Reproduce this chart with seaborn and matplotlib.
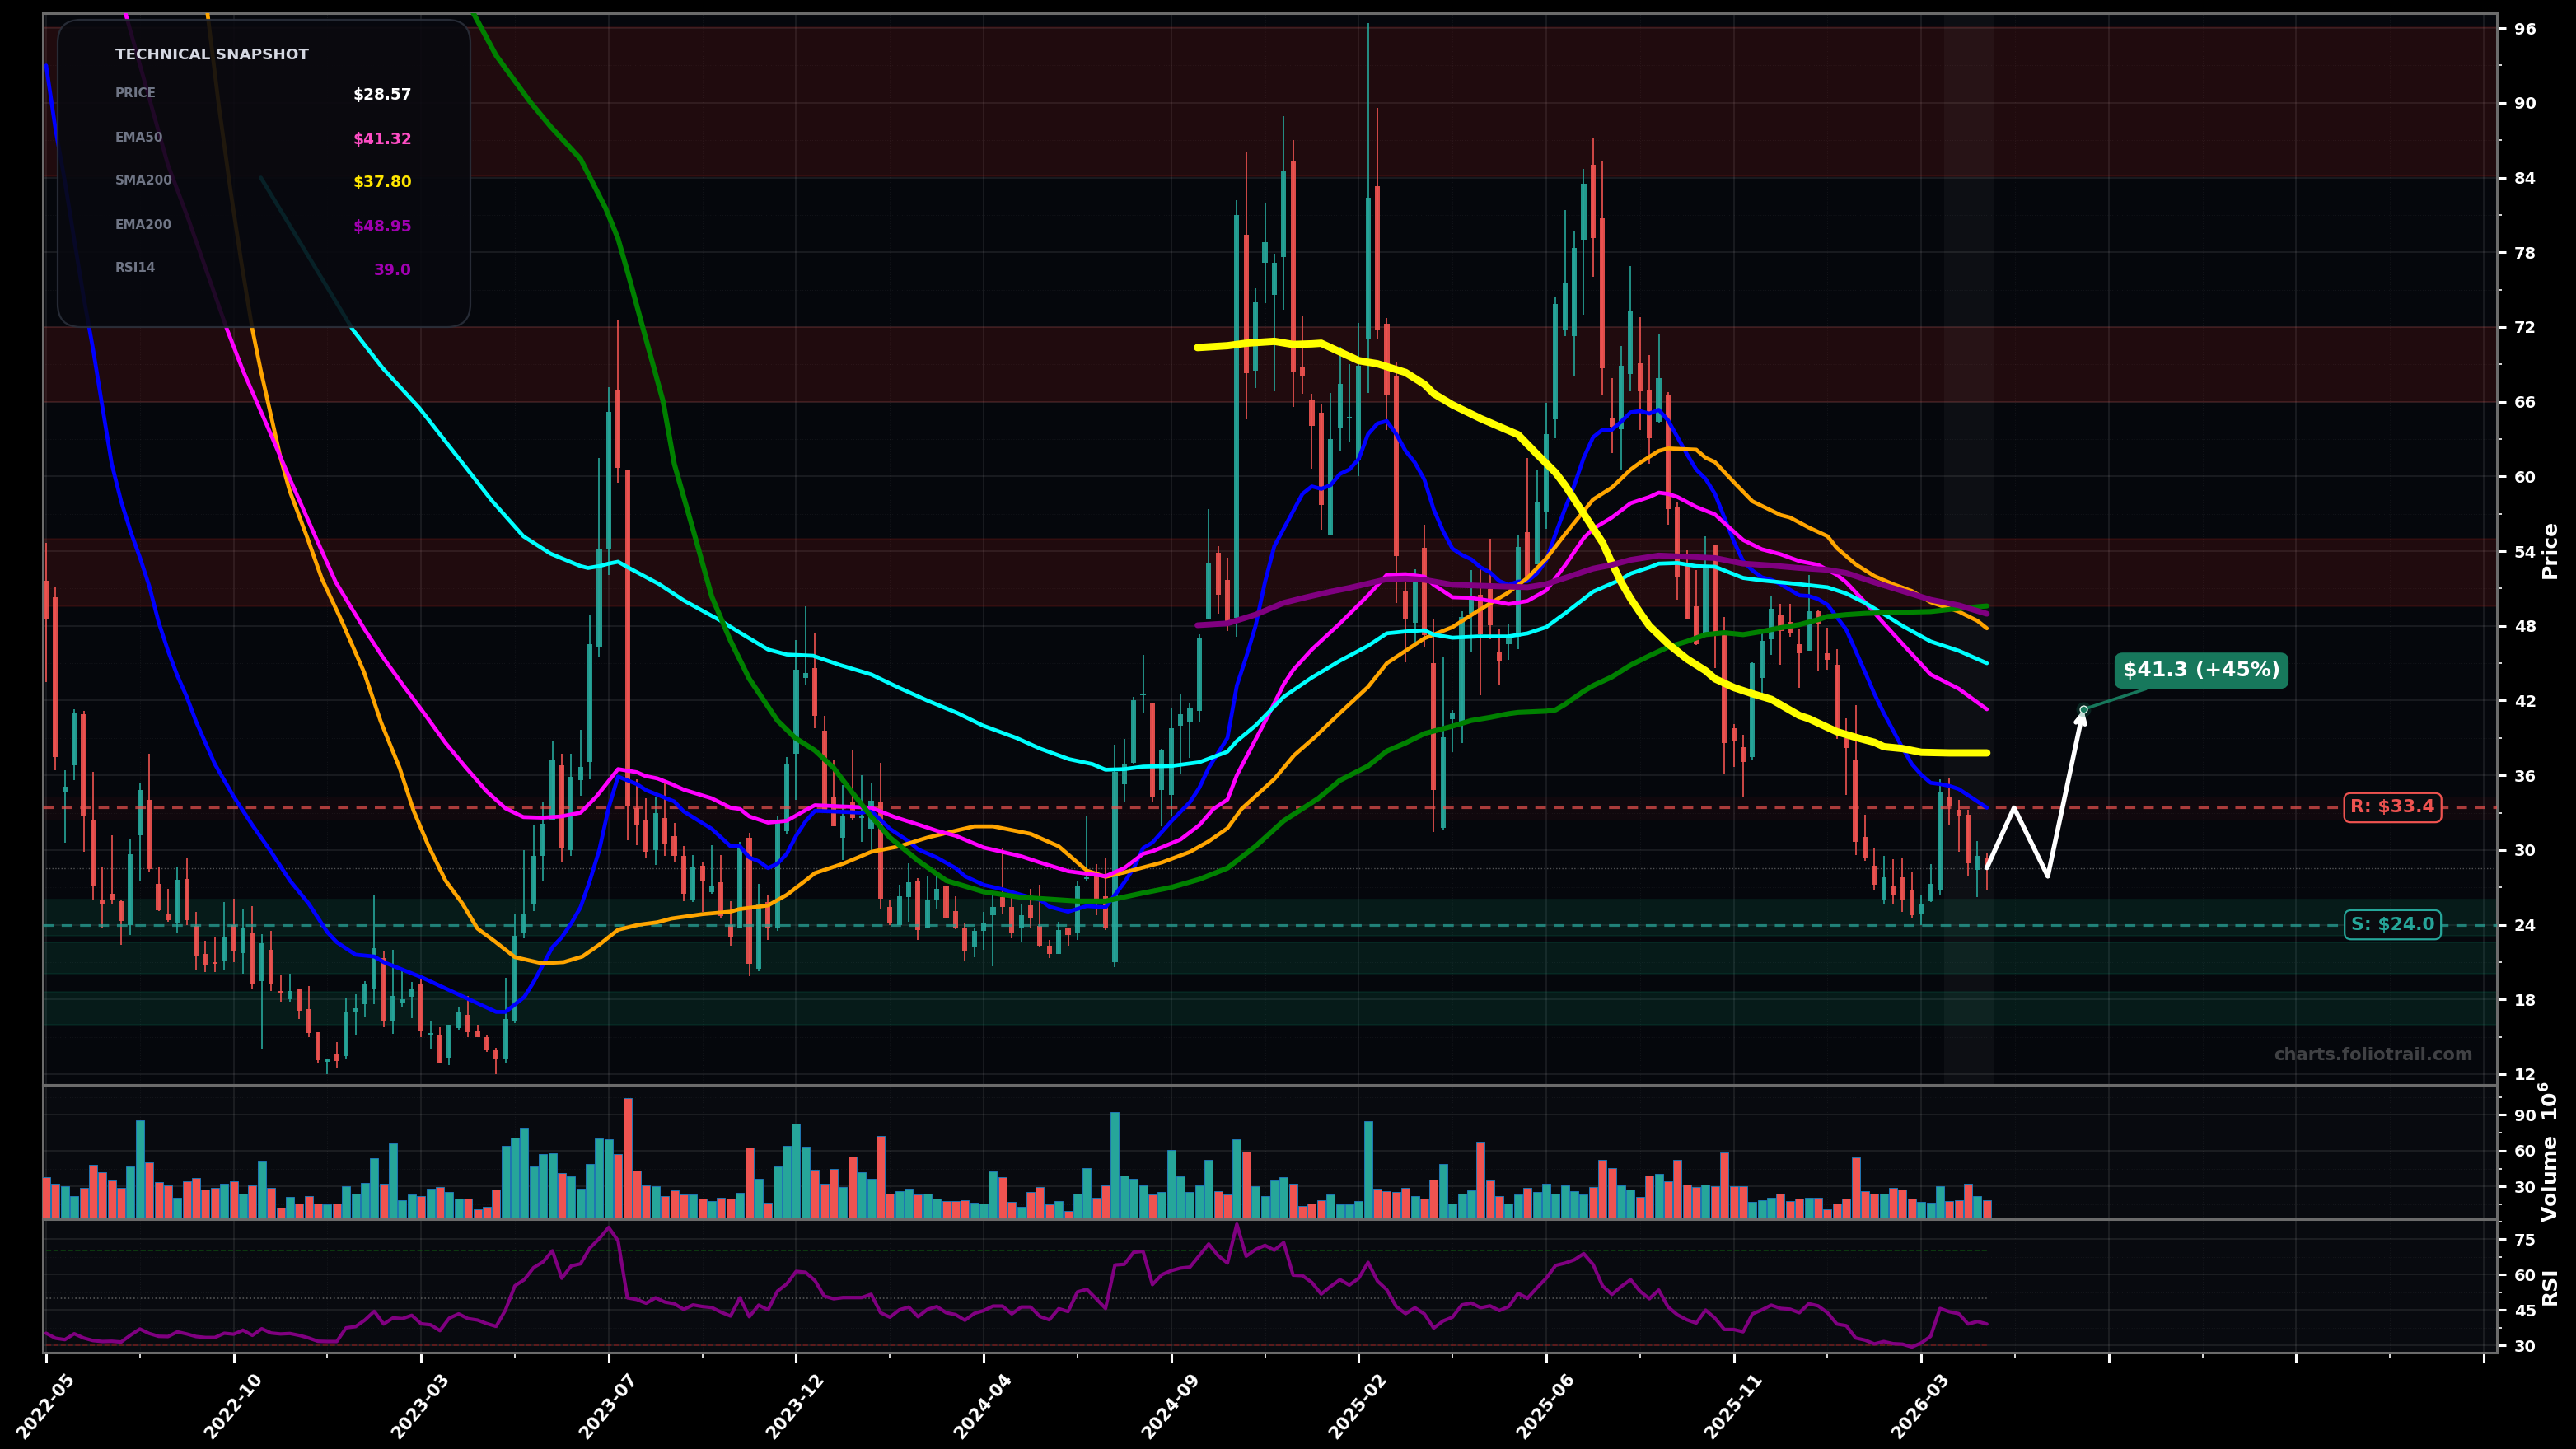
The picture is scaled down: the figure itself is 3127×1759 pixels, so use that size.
import matplotlib
matplotlib.use("Agg")
import matplotlib.pyplot as plt
import seaborn as sns
import pandas as pd
from matplotlib.patches import FancyBboxPatch
from matplotlib.ticker import MultipleLocator

# weekly candles
opens = [51.65,50.3,34.6,36.8,40.9,32.4,26,26.5,25.9,24,31.2,34,27.3,24.9,24.2,27.7,23.9,21.65,21,21.1,
         24,21.7,23.4,19.5,22,18.65,18.05,18.8,17.25,15.4,13,13.65,13.45,17.05,17.6,18.8,21.35,16.25,17.75,18.2,
         19.25,15.2,15.2,13.3,15.7,16.75,15.5,15,13.9,13.25,16.25,23.4,25.6,29.55,32.45,36.8,30,35.6,37.1,46.25,
         54.15,67,60.55,33.35,32.4,30,32.55,31.1,29.5,25.95,28.75,26.65,27.4,24,23.7,31,20.5,25.8,23.75,31.5,
         37.7,43.8,44.6,39.6,34.2,31,33.8,32.55,31.7,33.85,25.4,24,26.2,27.55,23.7,26,27.05,25.1,23.7,22.2,
         23.5,24.75,26.25,25.45,23.7,25.55,23.9,22.3,21.65,23.7,23.35,27.7,28.15,26.3,21,35.3,37,42.45,41.8,34.8,
         34.4,39.95,40.3,41.2,48.6,53.85,51.7,48.65,79.4,68.5,77.15,74.6,77.6,85.35,68.85,66.15,65.1,55.3,63.9,64.7,
         61.3,71.1,83.3,72.25,68.1,50.76,48.27,54.25,45,31.8,40.53,40.3,49,50.5,50.96,45.93,46.5,47.1,55.5,52.95,
         57.1,64.6,71.8,71.3,79,85,80.7,64.7,63.8,68.2,69.1,67,64.4,66.5,57.6,52.85,49.6,47.4,54.5,47.3,
         39.8,38.25,37.5,43.8,46.95,48.9,48.3,46.5,46,49.15,45.8,44.85,39,37.25,31.05,28.75,26,27.15,27.8,26.75,
         24.85,25.9,26.75,34.3,33.25,32.85,28.4,29.3]
closes = [48.5,37.45,35.1,40.95,32.8,27.07,25.66,26,24.3,29.65,34.8,28.45,25.15,24.35,27.6,24.4,21.45,20.8,20.85,23,
          21.85,23.7,19.3,22.55,19.2,18.45,18.7,17.1,15.3,13.15,13.2,13.05,17,17.3,19.25,22.15,16.3,18.3,18.05,18.85,
          15.5,15.3,12.9,15.95,17,15.4,15,13.9,13.25,16.4,23.1,24.9,29.55,32.1,37.25,30.15,35.85,36.7,46.55,54.2,
          65.2,60.7,33.5,32,29.85,32.95,30.5,29.55,26.5,28.6,27.55,27.1,24.7,23,30.3,20.85,25.6,23.7,32.4,36.9,
          44.5,44.2,40.8,33.2,31.9,32.7,32.55,32.75,33.95,26.1,24.2,26.3,27.4,23.6,26,26.9,24.6,23.75,21.9,23.5,
          24.15,25.4,25.4,23.3,24.75,24.55,22.35,21.65,23.6,23.15,27.1,27.75,26.05,23.75,36.3,36.85,42,42.5,34.3,38,
          39.75,40.9,41.35,47,53.1,50.5,48.4,81,68.3,74,78.8,77.15,84.5,68.4,68,64.05,57.7,63,67.4,64.75,
          68.9,82.4,71.75,66.6,53.6,48.53,51.6,47.28,34.8,39.05,40.97,48.7,50.2,47.3,48.05,45.23,47.1,54.33,51.9,58,
          63.4,73.85,75.6,78.35,83.5,79.15,68.7,64,68.9,73.3,66.85,63.05,67.9,57.35,51.95,48.6,46.5,52.9,47.5,38.6,
          38.75,37.1,45,46.8,49.4,47.6,47.45,45.8,49.15,48.15,45.25,39.25,38.2,30.65,29.3,27.2,27.8,26.35,26,24.75,
          25.65,27.3,34.6,33.5,32.7,28.95,29.55,28.57]
highs = [54.65,51.1,36.4,41.3,41.2,36.25,28.6,31.2,26,30.85,35.4,37.7,28.65,26.9,28.6,29.3,25,22.7,23,25.8,
         26.1,25.2,25.5,23.25,23.5,20,20.1,18.9,19.1,15.4,13.2,14.55,18.1,18.4,19.5,26.4,21.9,22,20.3,19.4,
         19.8,16.3,15.75,15.95,17.45,18.3,15.95,15.2,14.1,19.75,24.9,30,32,33.85,38.8,37.7,37.7,39.65,48.85,61.5,
         67.2,72.6,60.55,35.7,34.15,34.2,35.5,32.15,30.3,29.6,29.05,30.4,29.6,25.9,30.65,31.4,27.3,26.4,32.7,37.5,
         46.85,49.6,47.4,40.8,37.2,35.2,38,36,35.35,37,26.05,27.2,28.95,27.75,27.85,27.85,27.1,26.3,24.2,23.75,
         25.05,26.4,30.1,26.4,25.6,26.9,27.2,22.8,24.25,23.75,27.55,32.75,28.9,29.4,38.45,38.95,42.3,45.7,41.8,38.15,
         41.45,42.5,41.75,47.35,57.4,54.4,53.5,82.2,86,75.1,81.95,77.9,88.9,87,72.85,66.65,65.75,66.7,70.4,69,
         72.3,96.4,89.6,72.75,69.2,51.5,52.55,56.1,48.5,45.5,41.25,49.2,52.5,52.9,55,47.8,48.2,55.25,61.5,60.5,
         65.9,74.4,81.4,79.7,84.7,87.2,85.3,67.9,70.45,76.9,72.8,69.75,71.4,66.75,57.9,54.1,52.5,55.2,54.5,48.7,
         40.1,39.25,45.1,47.75,50.45,49.8,49.75,47.75,52.1,49.3,47.85,46.1,40.6,41.65,32.85,30.15,29.55,29.25,29.35,28.2,
         26.4,28.9,35.65,35.8,34.05,33.25,30.7,29.75]
lows = [43.5,36.4,30.6,35.6,29.85,26,23.8,25.6,22.4,23.2,27.5,28.2,25.1,24.25,23.4,24,20.4,20.2,20.2,20.4,
        21,20.1,18.8,14,18.7,17.85,17.8,16.45,15,12.9,12,12.55,13.2,15.2,16.55,17.65,15.75,15.25,17.45,16.5,
        15,14,12.9,12.75,15.6,14.95,15,13.8,12,12.95,16.1,22.9,25.1,27.5,32.45,29,29.55,34.35,35.65,45.55,
        52.1,59.5,30.8,30.4,29.35,28.8,29.5,29,25.9,25.85,25.05,26.5,24.6,22.35,23.7,19.85,20.3,22.8,23.5,31.3,
        34,43.3,39.75,33,31.9,29.2,32.4,30.65,29.85,25.3,24,24,24.25,22.8,23.7,25.2,24.5,23.65,21.1,21.4,
        22,20.65,24.9,22.9,22.6,23.7,22.25,21.3,21.65,22.35,22.8,27.45,24.75,23.6,20.6,33.8,36.85,41,33.8,31.9,
        32.7,36.15,37.4,40.25,48.5,49,47.6,47.1,64.6,67.1,73.9,66.85,73.4,65.55,66.65,60.6,55.75,55.3,62,62.8,
        60,66.7,71.1,63.7,49.85,45.05,46.66,46.3,31.45,31.6,37.85,38.6,45.9,42.4,46.9,43.25,45.3,46.1,51.7,52.95,
        55.8,63.1,71.25,68,73,76,66.6,61.85,60.55,66.85,63.7,61,64.25,56.1,50.1,48.6,46.45,47.3,44.6,36.05,
        36.7,34.3,37.3,42.55,45.7,44.9,47.1,43.05,46,44.4,44.5,38.95,34.4,29.6,29.15,26.85,25.6,25.7,25,24.5,
        24,25.85,26.45,32,29.85,27.85,26.25,26.75]
volumes = [38,32.5,30.5,22.2,29,48.3,42,35.3,29,47,85.4,50.4,33.9,31,20.8,34.6,37.3,27.7,29,32.5,
           34.6,24.3,31,51.8,29,12,21.5,16,22.2,16,14.7,16,30.5,24.3,33.2,53.8,32.5,66.2,18.8,23,
           22.2,28.4,29.8,25.6,19.5,19.5,10.6,12.6,27.7,64,71,79.2,47,57.3,58,41.5,38.7,28.4,49,70.3,
           69.6,57.3,104,43.5,31,30.5,22.2,27,23,23.6,20,18,20.8,20,25,62.7,36.6,16.7,47,64,
           82.7,63.4,44.2,32.5,44.9,29.8,55.2,42,36.6,72.4,24.3,26.3,28.4,23.4,24.3,19.5,18,18,18.8,16.7,
           16,42.8,38,17.4,12.6,25.6,29.8,15.3,18,9.8,24.3,45.6,20.8,31,92.3,39.4,36.6,31,23,25.6,
           60.7,38.7,25.6,31,52.4,26.3,23.6,69.6,59.3,30.5,22.2,35.3,38,32.5,13.3,16,18.8,23,14.7,14.7,
           18,84.7,28.2,26.3,25.6,29,22.2,20,36,49,16,24.3,27,67.6,35.3,22.2,16,23,29,25.6,
           32.5,24.3,31,26.3,23.6,29.8,52.4,45.6,31,27.7,21.5,39.4,40.8,34.6,52.4,31.8,29.8,31.8,30.5,58.6,
           30.5,30.5,17.4,18.8,20.8,24.3,18,20,20.8,20.8,11.2,16,19.5,54.5,26.3,24.3,24.3,29,27.7,20,
           17.4,16.7,30.5,18,18.8,32.5,22.2,18.8]
rsi14 = [35.1,33,32.4,34.9,33.1,32,31.6,31.7,31.4,34.3,36.9,35,33.8,33.7,35.7,34.8,33.7,33.3,33.3,35.1,
         34.7,36.4,34.2,37,35.2,34.8,35,34.2,33.1,31.7,31.6,31.6,37.4,37.9,40.7,44.4,39,41.6,41.3,42.7,
         39.1,38.7,36.2,41.5,43.3,41.3,40.7,39.2,38,45,55.2,57.8,62.9,65.3,70,58.4,63.6,64.5,71.2,75.2,
         79.9,74.3,50.1,49.4,47.8,50.1,48.3,47.6,45.2,47.1,46.4,46,44,42.4,50.1,42.1,47,45,52.9,56,
         61.3,60.9,57.4,50.8,49.7,50.2,50.2,50.2,51.6,43.8,41.9,45,46.2,42.1,45.2,46.4,43.8,43,40.6,43.5,
         44.7,46.6,46.6,43.3,46.2,46.2,42.2,40.8,45.5,44.3,52.6,53.7,49.7,45.6,64,64.3,69.4,69.8,55.7,59.9,
         61.6,62.7,63.1,68,72.9,68,64.8,81.3,67.7,70.6,72.3,70.3,73.5,59.7,59.5,56.6,51.7,54.9,57.8,55.5,
         58.4,65.1,57.2,53.5,46.4,43.4,45.9,43.3,37.3,40.3,41.9,47.1,47.9,45.9,46.7,44.7,46.4,52,49.9,54.3,
         58.4,63.8,64.8,66.2,68.8,64.2,55.2,51.5,54.9,57.8,52.9,49.7,53.4,46.2,42.9,40.8,39.4,44.9,41.5,36.7,
         36.7,35.7,43.3,45,47,45.6,45.3,43.8,47.6,46.7,43.8,39,38.3,33.1,32.2,30.6,31.6,30.7,30.5,29.3,
         31,33.8,45.6,44.2,43.4,39,40.1,39]

# moving averages, read at the bars where each one could be seen
blue_idx = [0,1,2,3,4,5,6,7,8,9,10,11,12,13,14,15,16,18,20,22,24,26,28,30,31,33,35,36,40,44,48,49,51,52,54,55,56,57,58,59,60,61,62,63,64,65,67,68,71,73,74,75,76,77,78,79,80,81,82,84,87,88,90,92,93,95,97,98,100,102,104,106,107,109,111,113,115,116,117,118,120,122,123,124,126,127,128,129,130,131,134,135,136,137,138,139,140,141,142,143,144,145,146,147,148,149,150,151,152,153,154,155,156,157,158,159,160,161,162,163,164,165,166,167,168,169,170,171,172,173,174,175,176,177,178,179,180,181,182,183,184,185,186,187,188,189,190,191,192,193,194,195,196,197,198,199,200,201,202,203,204,205,206,207]
blue_vals = [93,87.9,83.7,79,74.4,70.25,65.6,61,58,55.6,53.5,51.2,48.3,46,44,42.3,40.3,36.9,34.3,32,29.85,27.55,25.7,23.4,22.6,21.6,21.45,21,19.8,18.4,17,17,18.2,19.4,22.2,23,24.1,25.4,27.55,30,33.4,35.9,35.6,35.3,34.8,34.5,33.9,33.1,31.7,30.3,30.3,29.4,29.1,28.55,28.9,29.7,31.15,32.3,33.15,33.1,33,33.15,31.7,30.7,30.05,29.4,28.55,27.9,27.2,26.85,26.4,26,25.45,25.05,25.5,25.4,27.4,28.55,30.15,30.6,32.3,33.85,35,36.6,39,43.2,45.5,48,51.5,54.4,58.6,59.2,59,59.3,60.2,60.55,61.4,63.4,64.25,64.45,63.4,62.05,61.1,59.75,57.35,55.6,54.2,53.7,53.35,52.7,52.3,51.6,51.3,51.55,51.6,52.2,53.25,55.4,57.4,59.3,61.5,63.15,63.75,63.75,64.4,65.15,65.25,65.05,65.35,64.5,63.15,61.8,60.55,59.8,58.6,56.7,54.8,53.2,52.45,51.9,51.7,51.35,50.9,50.45,50.4,50.15,49.7,48.7,47.7,46,44.3,42.55,41,39.6,38.2,36.9,36.05,35.4,35.3,35.15,34.9,34.4,33.9,33.4]
orange_idx = [17,18.4,19.7,20.8,22,22.9,25,26,27.8,29.4,31.4,33.9,35.7,37.7,39.2,40.8,42.6,44.4,46,47.8,50,52.9,55.2,57.2,59,61,63.2,65.2,66.7,70,73,73.9,77,79,81,82,85,88,91,94,97,99,101,104,105,108,111,113,115,117,119,122,124,126,127.5,131,133.1,135.3,138,141,143,145,147,150,152.7,155.9,158,160,162,165,167,169,170,172,173,176,177,178,180,182,185,186,188,190,191,193,195,197,199,201,204,206,207]
orange_vals = [98.5,89.9,82.8,77.3,71.8,68.5,61.5,58.8,55.2,51.8,48.6,44.3,40.3,36.6,33.15,30.3,27.55,25.7,23.7,22.7,21.4,20.9,21,21.45,22.4,23.6,24,24.2,24.5,24.85,25.05,25.25,25.55,26.4,27.55,28.15,28.9,29.85,30.3,31,31.55,31.9,31.9,31.45,31.3,30.3,28.35,27.85,28.2,28.6,29,29.85,30.7,31.75,33.3,35.7,37.6,39.05,41,43.1,45,46,47,47.9,49.2,50.65,51.85,53.4,55.35,58.15,59.1,60.55,61.1,62.05,62.25,62.15,61.5,61.15,59.55,58,56.9,56.7,55.9,55.2,54.25,52.95,52,51.35,50.8,49.9,49.15,48.4,47.8]
magenta_idx = [8.5,13,15.2,19.3,21,23.5,26,28.7,30.9,33.9,35.9,38.1,40.1,42.6,44.8,47,49,50.9,52.9,54.9,57,58.7,61,63,63.9,65.2,66.7,68,71,73,74,75,77,79,81,82,85,88,90.5,93,95,97,100,104,106,109,113,115,117,118,121,123,124.5,126,127,128,130,132,133,135,138,141,143,145,147,148,150,152,155,156,158,160,162,164,165,167,169,171,172,173,174,176,178,179,181,183,185,187,189,191,192,194,196,198,201,204,207]
magenta_vals = [97.1,85,80.6,71.8,68.5,64.2,59.8,55.2,51.5,47.8,45.5,43.2,41.2,38.6,36.6,34.7,33.35,32.65,32.6,32.7,33,34.3,36.5,36.25,35.95,35.75,35.3,34.85,34.15,33.4,33.3,32.7,32.2,32.35,33.2,33.6,33.5,33.4,32.65,32.05,31.55,31.15,30.2,29.5,29,28.3,27.9,28.55,29.7,29.9,30.85,32,33.3,34.05,36,37.45,40.3,43.3,44.45,46.1,48.2,50.45,52.1,52.15,51.95,51.3,50.3,50.25,49.9,49.75,50,50.85,52.85,55.05,55.8,56.7,57.85,58.35,58.7,58.6,58.35,57.55,56.95,56.25,54.9,54.15,53.75,53.2,52.9,52.1,51.5,49.9,48.2,46.55,44.1,42.95,41.3]
cyan_idx = [22.9,32.7,35.9,39.8,47.6,50.9,53.8,57,57.8,59,60,61,62.3,64.4,65.4,68,72.1,73.9,77,79,81.8,84.7,88,90.9,94,97.2,99.9,103.5,106,109.1,111.6,113,115,117,120,123,126,127,129,132,134.9,138,141,143,145,147,148,150,152.7,155.9,158,160,162,165,167.9,169,171,172,174,176,178,181,183,185,187,190,192,194,196,198,201,204,207]
cyan_vals = [84,71.8,68.7,65.5,58,55.2,53.8,52.8,52.65,52.8,53,53.15,52.6,51.75,51.35,50.05,48.35,47.5,46.1,45.7,45.6,44.85,44.1,43.05,42,41,40,39,38.15,37.3,36.9,36.45,36.5,36.7,36.75,37.05,37.9,38.75,40,42.3,43.8,45.2,46.4,47.4,47.55,47.65,47.3,47.05,47.15,47.15,47.4,47.9,49,50.75,51.7,52.2,52.7,53,53.05,52.8,52.75,51.85,51.65,51.5,51.35,51.1,50.6,49.85,48.95,48,46.75,46,45]
green_idx = [45,48,51.6,53.8,57,59.7,61,62.1,63.7,65.8,67,69.2,71,73,75,78,79.9,82,84,86,88,90,93,96,100,104,107,110,113,117,120,123,126,129,132,135.7,138,141,143,145,147,150,152,154,156,157,160,161,162,164,165,167,169,171,173,175,177,179,181,183,185,187,189,190,192,194,196,201,204,207]
green_vals = [98,93.8,90.1,88.1,85.5,81.5,79.1,76.2,71.8,66.05,61,55.2,50.35,46.8,43.75,40.4,39,38,36.6,34.6,32.7,31,29.15,27.55,26.65,26.2,26.05,25.9,25.9,26.55,27,27.65,28.55,30.3,32.35,34.15,35.6,36.75,37.95,38.6,39.35,39.95,40.4,40.65,40.95,41.05,41.15,41.25,41.7,42.75,43.2,43.9,44.85,45.6,46.3,46.75,47.3,47.45,47.3,47.55,47.85,48.1,48.5,48.75,48.9,49,49.05,49.15,49.4,49.6]
yellow_idx = [122.8,126,128,130,131,133,135,136,138,140,142,145,147,148,150,153,157,159,161,162,164,166,167,168,169,170.2,171,173,175,177,178,180,182,184,187,188,189,191,193,195,196,198,200,203,207]
yellow_vals = [70.35,70.5,70.7,70.8,70.85,70.6,70.65,70.7,70,69.3,69.05,68.35,67.4,66.65,65.75,64.65,63.35,61.8,60.3,59.3,57,54.7,53.05,51.5,50.2,48.85,48,46.55,45.35,44.4,43.75,43.05,42.55,42.1,40.8,40.55,40.2,39.5,39.05,38.65,38.3,38.15,37.85,37.8,37.8]
purple_idx = [122.8,126,129,132,134.4,137,139,141,143,145,147,150,154,158,160,162,165,167,169,172,175,178,181,184,187,190,192,195,198,201,204,207]
purple_vals = [48.05,48.2,48.9,49.85,50.3,50.75,51.05,51.4,51.75,51.8,51.7,51.3,51.2,51.1,51.35,51.85,52.6,52.9,53.3,53.65,53.55,53.45,53,52.85,52.65,52.5,52.25,51.5,50.8,50.1,49.65,48.97]

# levels and zones
resistance = 33.4
support = 24.0
last_price = 28.57
red_zones = [(84.1, 96.1), (66, 72), (49.6, 55)]
res_zone = (32.45, 34.2)
green_zones = [(23.1, 26.05), (20.05, 22.6), (16, 18.6)]
forecast_idx = [207, 209.9, 213.5, 217.3]
forecast_vals = [28.57, 33.4, 27.9, 41.3]
tick_dates = ["2022-05","2022-10","2023-03","2023-07","2023-12","2024-04","2024-09","2025-02","2025-06","2025-11","2026-03","","",""]
snapshot_rows = ["PRICE","EMA50","SMA200","EMA200","RSI14"]
snapshot_vals = ["$28.57","$41.32","$37.80","$48.95","39.0"]

TEAL = "#26a69a"
RED = "#ef5350"
ZONE_RED = "#e42a20"
ZONE_GREEN = "#0da878"
W, H = 3127, 1759
DPI = 200

sns.set_style("dark")
plt.rcParams["font.family"] = ["DejaVu Sans"]
plt.rcParams["font.weight"] = "bold"

fig = plt.figure(figsize=(W / DPI, H / DPI), dpi=DPI, facecolor="black")

def make_ax(top, bottom, bg):
    return fig.add_axes([52 / W, 1 - bottom / H, (3031 - 52) / W, (bottom - top) / H], facecolor=bg)

ax = make_ax(16, 1317, "#05070c")
ax_vol = make_ax(1317, 1480, "#080a0f")
ax_rsi = make_ax(1480, 1642, "#080a0f")

idx = list(range(len(closes)))
side = ["up" if c >= o else "down" for o, c in zip(opens, closes)]
colors = [TEAL if s == "up" else RED for s in side]

# zones first so everything sits on top
for lo, hi in red_zones:
    ax.axhspan(lo, hi, facecolor=ZONE_RED, alpha=0.125, edgecolor=ZONE_RED, lw=0.6, zorder=1)
ax.axhspan(res_zone[0], res_zone[1], facecolor=ZONE_RED, alpha=0.05, lw=0, zorder=1)
for lo, hi in green_zones:
    ax.axhspan(lo, hi, facecolor=ZONE_GREEN, alpha=0.125, edgecolor=ZONE_GREEN, lw=0.6, zorder=1)
ax.axvspan(202.4, 207.8, color="white", alpha=0.035, lw=0, zorder=1)

# candles
ax.vlines(idx, lows, highs, colors=colors, lw=0.6, zorder=3)
body_low = [min(o, c) for o, c in zip(opens, closes)]
body_h = [max(abs(o - c), 0.08) for o, c in zip(opens, closes)]
ax.bar(idx, body_h, bottom=body_low, width=0.54, color=colors, alpha=0.92, lw=0, zorder=3)

# moving averages
line_sets = [
    (blue_idx, blue_vals, "#0000ff", 1.7),
    (orange_idx, orange_vals, "#ffa500", 1.7),
    (magenta_idx, magenta_vals, "#ff00ff", 1.7),
    (cyan_idx, cyan_vals, "#00ffff", 1.7),
    (green_idx, green_vals, "#008000", 2.2),
    (yellow_idx, yellow_vals, "#ffff00", 3.2),
    (purple_idx, purple_vals, "#800080", 2.5),
]
for xs, ys, col, lw in line_sets:
    sns.lineplot(x=xs, y=ys, color=col, lw=lw, ax=ax, zorder=5, errorbar=None)

# levels
ax.axhline(resistance, color=RED, ls=(0, (4, 3)), lw=1.15, alpha=0.7, zorder=4)
ax.axhline(support, color=TEAL, ls=(0, (4, 3)), lw=1.15, alpha=0.7, zorder=4)
ax.axhline(last_price, color="#888888", ls=":", lw=0.5, alpha=0.6, zorder=2)

box_r = dict(boxstyle="round,pad=0.35", fc="#0a0c10", ec=RED, lw=0.8)
box_s = dict(boxstyle="round,pad=0.35", fc="#0a0c10", ec=TEAL, lw=0.8)
ax.text(250.3, resistance, f"R: ${resistance:.1f}", color=RED, fontsize=7.9, fontweight="bold",
        ha="center", va="center", bbox=box_r, zorder=7)
ax.text(250.3, support, f"S: ${support:.1f}", color=TEAL, fontsize=7.9, fontweight="bold",
        ha="center", va="center", bbox=box_s, zorder=7)

# forecast path and target
sns.lineplot(x=forecast_idx[:-1], y=forecast_vals[:-1], color="white", lw=2, ax=ax, zorder=6, errorbar=None)
ax.annotate("", xy=(forecast_idx[-1], forecast_vals[-1]), xytext=(forecast_idx[-2], forecast_vals[-2]),
            arrowprops=dict(arrowstyle="->", color="white", lw=2, shrinkA=0, shrinkB=0, mutation_scale=10), zorder=6)
ax.annotate(f"${forecast_vals[-1]:.1f} (+45%)", xy=(forecast_idx[-1], forecast_vals[-1]), xytext=(229.9, 44.4),
            color="white", fontsize=9, fontweight="bold", ha="center", va="center",
            bbox=dict(boxstyle="round,pad=0.4", fc="#17785c", ec="none"),
            arrowprops=dict(arrowstyle="-", color="#17785c", lw=1.3, shrinkA=0, shrinkB=0), zorder=7)
ax.scatter([forecast_idx[-1]], [forecast_vals[-1]], s=42, color="#17785c", alpha=0.25, lw=0, zorder=7)
ax.scatter([forecast_idx[-1]], [forecast_vals[-1]], s=10, color="#17785c", edgecolor="#e8f5ee", lw=0.5, zorder=8)

ax.text(258.8, 13.55, "charts.foliotrail.com", color="#8a8a8a", alpha=0.45, fontsize=7.6, fontweight="bold",
        ha="right", va="center", zorder=7)

# volume panel
vol_df = pd.DataFrame({"idx": idx, "volume": volumes, "side": side})
sns.barplot(data=vol_df, x="idx", y="volume", hue="side", palette={"up": TEAL, "down": RED},
            native_scale=True, dodge=False, width=0.88, saturation=1, edgecolor="#1f77b4", linewidth=0.35,
            legend=False, ax=ax_vol, zorder=3)

# rsi panel
ax_rsi.hlines(70, 0, idx[-1], color="#0f5a0f", ls="--", lw=0.6, alpha=0.7, zorder=2)
ax_rsi.hlines(30, 0, idx[-1], color="#8a1a1a", ls="--", lw=0.6, alpha=0.7, zorder=2)
ax_rsi.hlines(50, 0, idx[-1], color="#666666", ls=":", lw=0.6, alpha=0.8, zorder=2)
sns.lineplot(x=idx, y=rsi14, color="#800080", lw=1.5, ax=ax_rsi, zorder=4, errorbar=None)

# axes cosmetics
ax.set_ylim(11.14, 97.2)
ax_vol.set_ylim(2.6, 115)
ax_rsi.set_ylim(26.9, 83.4)
steps = {ax: (6, 3), ax_vol: (30, 15), ax_rsi: (15, 7.5)}
for a, label in [(ax, "Price"), (ax_vol, r"Volume  $\mathbf{10^{6}}$"), (ax_rsi, "RSI")]:
    a.set_xlim(-0.35, 261.4)
    a.set_xlabel("")
    a.yaxis.set_major_locator(MultipleLocator(steps[a][0]))
    a.yaxis.set_minor_locator(MultipleLocator(steps[a][1]))
    a.xaxis.set_major_locator(MultipleLocator(20))
    a.xaxis.set_minor_locator(MultipleLocator(10))
    a.yaxis.tick_right()
    a.yaxis.set_label_position("right")
    a.set_ylabel(label, color="white", fontsize=9, fontweight="bold")
    a.yaxis.set_label_coords(1.0176, 0.5)
    a.tick_params(axis="y", which="major", colors="white", labelsize=7, length=4, width=1.1, left=False, right=True)
    a.tick_params(axis="y", which="minor", colors="white", length=2, width=0.6, left=False, right=True)
    a.tick_params(axis="x", which="both", bottom=False, labelbottom=False)
    a.grid(True, which="major", color="white", alpha=0.08, lw=0.7, zorder=0)
    a.grid(True, which="minor", color="white", alpha=0.05, lw=0.4, ls=":", zorder=0)
    a.set_axisbelow(True)
    for s in a.spines.values():
        s.set_visible(True)
        s.set_color("#6b6b6b")
        s.set_linewidth(1.1)

ax_rsi.set_xticks([20 * i for i in range(len(tick_dates))])
ax_rsi.set_xticklabels(tick_dates, rotation=50, ha="center", fontsize=7.6, fontweight="bold", color="white")
ax_rsi.tick_params(axis="x", which="major", bottom=True, labelbottom=True, colors="white", length=4.2, width=1.1)
ax_rsi.tick_params(axis="x", which="minor", bottom=True, colors="white", length=2, width=0.6)

# snapshot panel, drawn in pixel units of its own axes
panel = fig.add_axes([69 / W, 1 - 398 / H, 503 / W, 375 / H], facecolor="none")
panel.set_xlim(0, 503)
panel.set_ylim(375, 0)
panel.axis("off")
panel.add_patch(FancyBboxPatch((1, 1), 501, 373, boxstyle="round,pad=0,rounding_size=28",
                               fc="#08090f", ec="#2a2f3a", lw=0.8, alpha=0.9, clip_on=False))
panel.text(71, 44, "TECHNICAL SNAPSHOT", color="#d5d8e2", fontsize=6.6, fontweight="bold", va="center")
value_colors = ["white", "#ff4dc4", "#ffe600", "#a000b0", "#a000b0"]
for row, name, val, col in zip([90, 144, 197, 250, 303], snapshot_rows, snapshot_vals, value_colors):
    panel.text(71, row, name, color="#6f7585", fontsize=5.5, fontweight="bold", va="center")
    panel.text(431, row + 2, val, color=col, fontsize=6.7, fontweight="bold", ha="right", va="center")

fig.savefig("out.png", dpi=DPI, facecolor="black")
